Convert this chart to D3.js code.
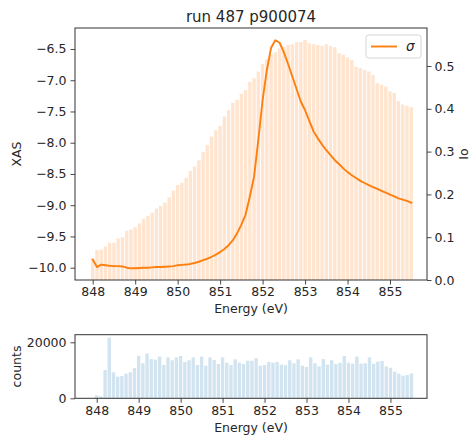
<!DOCTYPE html>
<html><head><meta charset="utf-8">
<script src="https://cdn.jsdelivr.net/npm/d3@7/dist/d3.min.js"></script>
<style>body{margin:0;background:#fff}svg{display:block}text{font-family:"DejaVu Sans",sans-serif;fill:#262626}</style>
</head><body>
<script>
const energy = [848.0,848.1,848.2,848.3,848.4,848.5,848.6,848.7,848.8,848.9,
849.0,849.1,849.2,849.3,849.4,849.5,849.6,849.7,849.8,849.9,
850.0,850.1,850.2,850.3,850.4,850.5,850.6,850.7,850.8,850.9,
851.0,851.1,851.2,851.3,851.4,851.5,851.6,851.7,851.8,851.9,
852.0,852.1,852.2,852.3,852.4,852.5,852.6,852.7,852.8,852.9,
853.0,853.1,853.2,853.3,853.4,853.5,853.6,853.7,853.8,853.9,
854.0,854.1,854.2,854.3,854.4,854.5,854.6,854.7,854.8,854.9,
855.0,855.1,855.2,855.3,855.4,855.5];
const xas = [-9.87,-9.99,-9.95,-9.96,-9.97,-9.975,-9.975,-9.98,-10.0,-10.01,
-10.01,-10.005,-10.0,-10.0,-9.995,-9.99,-9.99,-9.985,-9.98,-9.975,
-9.96,-9.955,-9.95,-9.94,-9.925,-9.905,-9.88,-9.855,-9.825,-9.79,
-9.75,-9.70,-9.64,-9.56,-9.45,-9.31,-9.15,-8.86,-8.54,-7.95,
-7.32,-6.84,-6.48,-6.36,-6.40,-6.55,-6.74,-6.94,-7.14,-7.34,
-7.48,-7.65,-7.82,-7.93,-8.03,-8.12,-8.20,-8.28,-8.34,-8.41,
-8.47,-8.52,-8.565,-8.61,-8.645,-8.68,-8.71,-8.74,-8.77,-8.80,
-8.83,-8.86,-8.89,-8.91,-8.93,-8.96];
const io = [0.05,0.070,0.071,0.078,0.087,0.087,0.097,0.100,0.115,0.118,
0.123,0.132,0.143,0.150,0.157,0.167,0.173,0.181,0.193,0.209,
0.222,0.227,0.239,0.255,0.265,0.280,0.299,0.315,0.335,0.350,
0.360,0.382,0.397,0.414,0.421,0.435,0.444,0.463,0.471,0.487,
0.505,0.516,0.526,0.532,0.541,0.545,0.549,0.551,0.556,0.556,
0.5607,0.553,0.551,0.549,0.547,0.551,0.547,0.544,0.530,0.526,
0.520,0.514,0.498,0.495,0.491,0.487,0.479,0.460,0.456,0.452,
0.441,0.437,0.418,0.410,0.407,0.404];
const counts = [1070,700,10100,21650,9280,7730,7970,8800,9280,10800,
15200,12500,16000,14000,13800,14900,11900,14600,13600,14600,
15100,12960,13600,14600,11900,14900,11650,14600,13700,12250,
14600,12700,11900,13900,12700,12250,13400,13400,14300,11650,
11900,12960,12700,12960,12000,11800,13600,12500,13900,11650,
11200,14600,12500,11400,14000,12000,13600,12250,12700,15100,
12700,12350,14900,12350,12500,14600,12350,13100,13300,11400,
10900,9500,8800,8070,8320,8900];
const xTicks = [848,849,850,851,852,853,854,855];
const yLeftTicks = [-10.0,-9.5,-9.0,-8.5,-8.0,-7.5,-7.0,-6.5];
const yRightTicks = [0.0,0.1,0.2,0.3,0.4,0.5];
const countTicks = [0,20000];
const title = "run 487 p900074";

const W=471,H=439;
const svg=d3.select("body").append("svg").attr("width",W).attr("height",H);
const L=75,R=427,T=28,B=280,T2=334.7,B2=398.3;
const fs=12.5;
const xTop=d3.scaleLinear().domain([847.583,855.871]).range([L,R]);
const yL=d3.scaleLinear().domain([-10.197,-6.164]).range([B,T]);
const yR=d3.scaleLinear().domain([0,0.5888]).range([B,T]);
const xBot=d3.scaleLinear().domain([847.483,855.871]).range([L,R]);
const yB=d3.scaleLinear().domain([0,22714]).range([B2,T2]);
const bw=0.08;
const fmtMinus=(f)=>(d)=>f(d).replace("-","\u2212");

// top bars (Io)
svg.append("g").selectAll("rect").data(energy).join("rect")
 .attr("x",(d)=>xTop(d-bw/2)).attr("width",(d)=>xTop(d+bw/2)-xTop(d-bw/2))
 .attr("y",(d,i)=>yR(io[i])).attr("height",(d,i)=>yR(0)-yR(io[i]))
 .attr("fill","#ff7f0e").attr("fill-opacity",0.2);
// line
svg.append("path").datum(energy)
 .attr("d",d3.line().x((d)=>xTop(d)).y((d,i)=>yL(xas[i])))
 .attr("fill","none").attr("stroke","#ff7f0e").attr("stroke-width",1.9)
 .attr("stroke-linejoin","round").attr("stroke-linecap","square");

function styleAxis(g){
 g.selectAll("path.domain").remove();
 g.selectAll(".tick line").attr("stroke","#333").attr("stroke-width",0.9);
 g.selectAll(".tick text").attr("font-size",fs).attr("font-family","DejaVu Sans").attr("fill","#262626");
}
const ax1=svg.append("g").attr("transform",`translate(0,${B})`)
 .call(d3.axisBottom(xTop).tickValues(xTicks).tickFormat(d3.format("d")).tickSize(4.5).tickPadding(3));
styleAxis(ax1);
const ax2=svg.append("g").attr("transform",`translate(${L},0)`)
 .call(d3.axisLeft(yL).tickValues(yLeftTicks).tickFormat(fmtMinus(d3.format(".1f"))).tickSize(4.5).tickPadding(4));
styleAxis(ax2);
const ax3=svg.append("g").attr("transform",`translate(${R},0)`)
 .call(d3.axisRight(yR).tickValues(yRightTicks).tickFormat(d3.format(".1f")).tickSize(4.5).tickPadding(3));
styleAxis(ax3);
svg.append("rect").attr("x",L).attr("y",T).attr("width",R-L).attr("height",B-T)
 .attr("fill","none").attr("stroke","#333").attr("stroke-width",1);

// legend
svg.append("rect").attr("x",366).attr("y",35).attr("width",55).attr("height",23).attr("rx",2.5)
 .attr("fill","#fff").attr("fill-opacity",0.8).attr("stroke","#d0d0d0").attr("stroke-width",0.9);
svg.append("line").attr("x1",371).attr("x2",397).attr("y1",46.5).attr("y2",46.5)
 .attr("stroke","#ff7f0e").attr("stroke-width",1.9);
svg.append("text").attr("x",406).attr("y",51).attr("font-size",fs+1).attr("font-style","italic").text("\u03c3");

// titles & labels
svg.append("text").attr("x",(L+R)/2).attr("y",22).attr("text-anchor","middle").attr("font-size",15).text(title);
svg.append("text").attr("x",(L+R)/2).attr("y",313).attr("text-anchor","middle").attr("font-size",fs).text("Energy (eV)");
svg.append("text").attr("transform",`translate(21,${(T+B)/2}) rotate(-90)`).attr("text-anchor","middle").attr("font-size",fs).text("XAS");
svg.append("text").attr("transform",`translate(468,${(T+B)/2}) rotate(-90)`).attr("text-anchor","middle").attr("font-size",fs).text("Io");

// bottom bars
svg.append("g").selectAll("rect").data(energy).join("rect")
 .attr("x",(d)=>xBot(d-bw/2)).attr("width",(d)=>xBot(d+bw/2)-xBot(d-bw/2))
 .attr("y",(d,i)=>yB(counts[i])).attr("height",(d,i)=>yB(0)-yB(counts[i]))
 .attr("fill","#1f77b4").attr("fill-opacity",0.2);
const ax4=svg.append("g").attr("transform",`translate(0,${B2})`)
 .call(d3.axisBottom(xBot).tickValues(xTicks).tickFormat(d3.format("d")).tickSize(4.5).tickPadding(3));
styleAxis(ax4);
const ax5=svg.append("g").attr("transform",`translate(${L},0)`)
 .call(d3.axisLeft(yB).tickValues(countTicks).tickFormat(d3.format("d")).tickSize(4.5).tickPadding(4));
styleAxis(ax5);
svg.append("rect").attr("x",L).attr("y",T2).attr("width",R-L).attr("height",B2-T2)
 .attr("fill","none").attr("stroke","#333").attr("stroke-width",1);
svg.append("text").attr("x",(L+R)/2).attr("y",432).attr("text-anchor","middle").attr("font-size",fs).text("Energy (eV)");
svg.append("text").attr("transform",`translate(21,${(T2+B2)/2}) rotate(-90)`).attr("text-anchor","middle").attr("font-size",fs).text("counts");
</script>
</body></html>
